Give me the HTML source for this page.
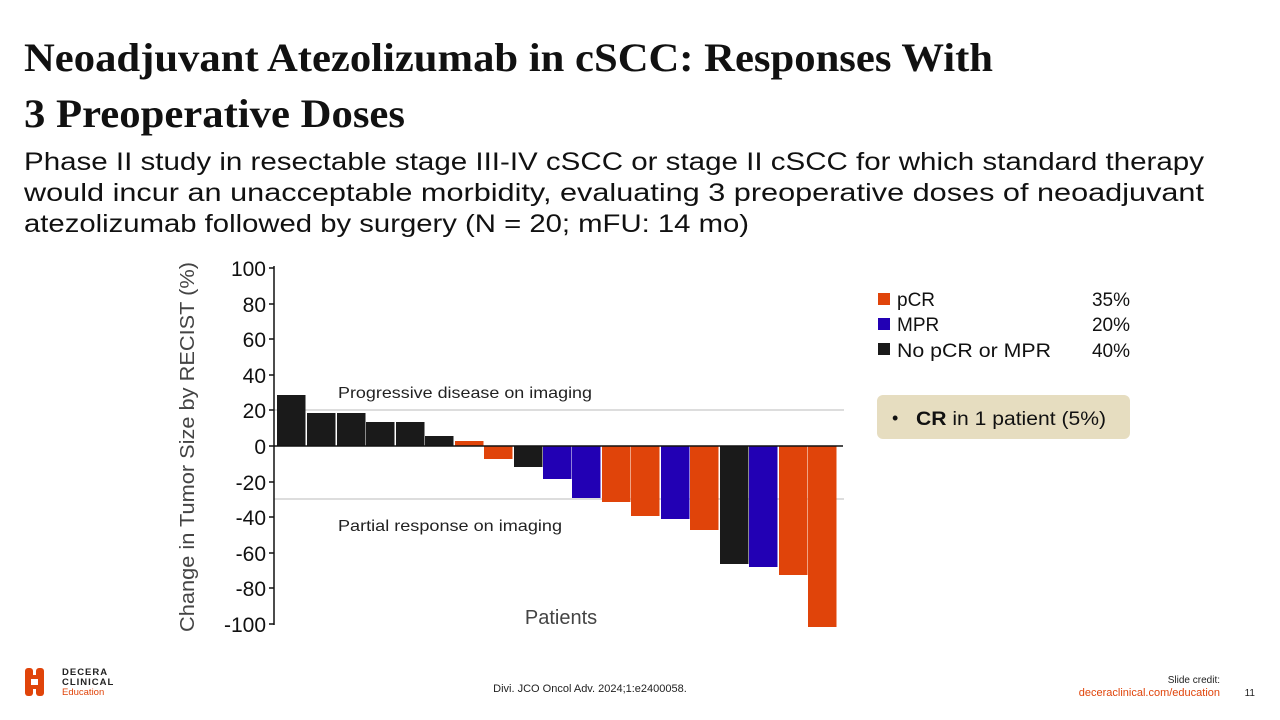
<!DOCTYPE html>
<html><head><meta charset="utf-8"><style>
body{margin:0;width:1280px;height:720px;background:#fff;position:relative;overflow:hidden;font-family:"Liberation Sans",sans-serif}
</style></head><body>
<svg width="1280" height="720" style="position:absolute;left:0;top:0" font-family="Liberation Sans, sans-serif">
<g font-family="Liberation Serif, serif" font-weight="bold" font-size="40" fill="#111">
<text x="24" y="71" textLength="969" lengthAdjust="spacingAndGlyphs">Neoadjuvant Atezolizumab in cSCC: Responses With</text>
<text x="24" y="127" textLength="381" lengthAdjust="spacingAndGlyphs">3 Preoperative Doses</text></g>
<g font-size="25" fill="#111">
<text x="24" y="170" textLength="1180" lengthAdjust="spacingAndGlyphs">Phase II study in resectable stage III-IV cSCC or stage II cSCC for which standard therapy</text>
<text x="24" y="201" textLength="1180" lengthAdjust="spacingAndGlyphs">would incur an unacceptable morbidity, evaluating 3 preoperative doses of neoadjuvant</text>
<text x="24" y="232" textLength="725" lengthAdjust="spacingAndGlyphs">atezolizumab followed by surgery (N = 20; mFU: 14 mo)</text></g>
<line x1="274" y1="410" x2="844" y2="410" stroke="#bbb" stroke-width="1"/>
<line x1="274" y1="499" x2="844" y2="499" stroke="#bbb" stroke-width="1"/>
<g fill="#1a1a1a">
<rect x="277" y="395" width="28.5" height="51"/><rect x="307" y="413" width="28.5" height="33"/><rect x="337" y="413" width="28.5" height="33"/><rect x="366" y="422" width="28.5" height="24"/><rect x="396" y="422" width="28.5" height="24"/><rect x="425" y="436" width="28.5" height="10"/>
<rect x="514" y="446" width="28.5" height="21"/><rect x="720" y="446" width="28.5" height="118"/></g>
<g fill="#e0440a">
<rect x="455" y="441" width="28.5" height="5"/><rect x="484" y="446" width="28.5" height="13"/><rect x="602" y="446" width="28.5" height="56"/><rect x="631" y="446" width="28.5" height="70"/><rect x="690" y="446" width="28.5" height="84"/><rect x="779" y="446" width="28.5" height="129"/><rect x="808" y="446" width="28.5" height="181"/></g>
<g fill="#2200b4">
<rect x="543" y="446" width="28.5" height="33"/><rect x="572" y="446" width="28.5" height="52"/><rect x="661" y="446" width="28.5" height="73"/><rect x="749" y="446" width="28.5" height="121"/></g>
<line x1="274" y1="446" x2="843" y2="446" stroke="#111" stroke-width="1.5"/>
<line x1="274" y1="266" x2="274" y2="625" stroke="#111" stroke-width="1.5"/>
<g stroke="#111" stroke-width="1.5">
<line x1="269" y1="268" x2="274" y2="268"/><line x1="269" y1="304" x2="274" y2="304"/><line x1="269" y1="339" x2="274" y2="339"/><line x1="269" y1="375" x2="274" y2="375"/><line x1="269" y1="410" x2="274" y2="410"/><line x1="269" y1="446" x2="274" y2="446"/><line x1="269" y1="482" x2="274" y2="482"/><line x1="269" y1="517" x2="274" y2="517"/><line x1="269" y1="553" x2="274" y2="553"/><line x1="269" y1="588" x2="274" y2="588"/><line x1="269" y1="624" x2="274" y2="624"/></g>
<g font-size="21" fill="#111" text-anchor="end">
<text x="266" y="276">100</text><text x="266" y="312">80</text><text x="266" y="347">60</text><text x="266" y="383">40</text><text x="266" y="418">20</text><text x="266" y="454">0</text><text x="266" y="490">-20</text><text x="266" y="525">-40</text><text x="266" y="561">-60</text><text x="266" y="596">-80</text><text x="266" y="632">-100</text></g>
<text transform="translate(194,447) rotate(-90)" text-anchor="middle" font-size="20" fill="#444" textLength="370" lengthAdjust="spacingAndGlyphs">Change in Tumor Size by RECIST (%)</text>
<text x="338" y="398" font-size="16" fill="#222" textLength="254" lengthAdjust="spacingAndGlyphs">Progressive disease on imaging</text>
<text x="338" y="531" font-size="16" fill="#222" textLength="224" lengthAdjust="spacingAndGlyphs">Partial response on imaging</text>
<text x="561" y="624" font-size="20" fill="#444" text-anchor="middle">Patients</text>
<rect x="878" y="293" width="12" height="12" fill="#e0440a"/><rect x="878" y="318" width="12" height="12" fill="#2200b4"/><rect x="878" y="343" width="12" height="12" fill="#1a1a1a"/>
<g font-size="19" fill="#111"><text x="897" y="306">pCR</text><text x="897" y="331">MPR</text><text x="897" y="357" textLength="154" lengthAdjust="spacingAndGlyphs">No pCR or MPR</text>
<text x="1130" y="306" text-anchor="end">35%</text><text x="1130" y="331" text-anchor="end">20%</text><text x="1130" y="357" text-anchor="end">40%</text></g>
<rect x="877" y="395" width="253" height="44" rx="6" fill="#e6ddc0"/>
<text x="892" y="424" font-size="18" fill="#111">•</text>
<text x="916" y="425" font-size="19" fill="#111" textLength="190" lengthAdjust="spacingAndGlyphs"><tspan font-weight="bold">CR</tspan> in 1 patient (5%)</text>
<g fill="#e0440a"><rect x="25" y="668" width="8" height="28" rx="3"/><rect x="36" y="668" width="8" height="28" rx="3"/><rect x="25" y="675" width="19" height="14"/></g>
<rect x="31" y="679" width="7" height="6" fill="#fff"/>
<g font-size="9.5" font-weight="bold" fill="#222" letter-spacing="1"><text x="62" y="675">DECERA</text><text x="62" y="685">CLINICAL</text></g>
<text x="62" y="695" font-size="9.5" fill="#e0440a">Education</text>
<text x="590" y="692" font-size="11" fill="#222" text-anchor="middle">Divi. JCO Oncol Adv. 2024;1:e2400058.</text>
<text x="1220" y="683" font-size="10" fill="#222" text-anchor="end">Slide credit:</text>
<text x="1220" y="696" font-size="11" fill="#e0440a" text-anchor="end">deceraclinical.com/education</text>
<text x="1255" y="696" font-size="10" fill="#222" text-anchor="end">11</text>
</svg>
</body></html>
